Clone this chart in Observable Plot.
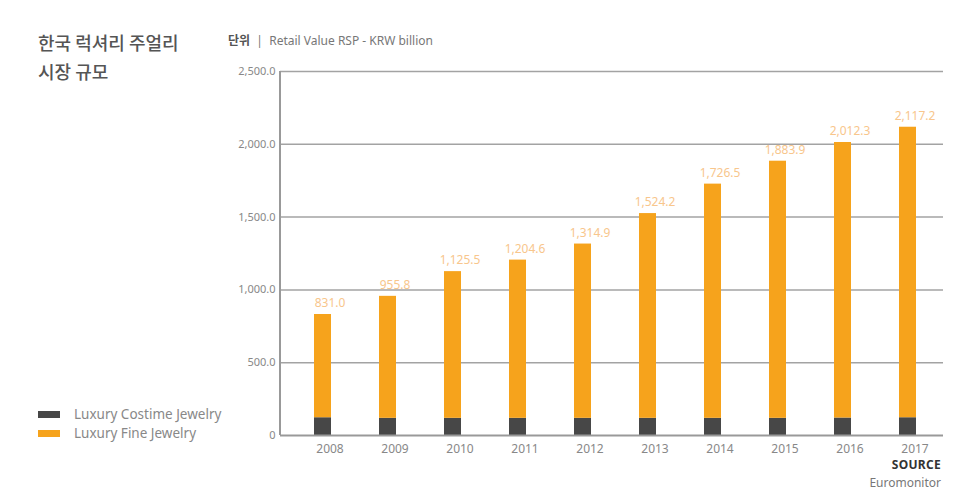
<!DOCTYPE html>
<html><head><meta charset="utf-8">
<script src="https://cdn.jsdelivr.net/npm/d3@7"></script>
<script src="https://cdn.jsdelivr.net/npm/@observablehq/plot@0.6"></script>
<style>
body{margin:0;background:#fff;font-family:"Noto Sans","Noto Sans CJK KR",sans-serif;}
#wrap{position:relative;width:978px;height:497px;overflow:hidden;}
#chart{position:absolute;left:0;top:0;}
.ov{position:absolute;white-space:nowrap;}
#title{left:38px;top:28px;font-family:"Noto Sans CJK KR",sans-serif;font-size:18px;font-weight:500;line-height:29px;color:#555;}
#unit{left:228px;top:32px;font-size:12px;line-height:16px;color:#777;}
#unit b{font-family:"Noto Sans CJK KR",sans-serif;font-weight:700;color:#555;}
#legend{left:38px;top:405px;font-size:13.5px;line-height:19px;color:#888;}
#legend .it{display:flex;align-items:center;}
#legend .sw{width:22px;height:7px;margin-right:14px;}
#source{right:37px;top:456px;text-align:right;font-size:12px;line-height:18px;color:#777;}
#source b{color:#333;letter-spacing:0.3px;}
</style></head><body>
<div id="wrap">
<div id="chart"></div>
<div class="ov" id="title">한국 럭셔리 주얼리<br>시장 규모</div>
<div class="ov" id="unit"><b>단위</b> &nbsp;|&nbsp; Retail Value RSP - KRW billion</div>
<div class="ov" id="legend"></div>
<div class="ov" id="source"><b>SOURCE</b><br>Euromonitor</div>
</div>
<script>
const years = ["2008","2009","2010","2011","2012","2013","2014","2015","2016","2017"];
const totals = [831.0, 955.8, 1125.5, 1204.6, 1314.9, 1524.2, 1726.5, 1883.9, 2012.3, 2117.2];
const costume = [122, 118, 118, 118, 118, 118, 118, 118, 120, 122];
const fine = [709.0, 837.8, 1007.5, 1086.6, 1196.9, 1406.2, 1608.5, 1765.9, 1892.3, 1995.2];
const seriesNames = ["Luxury Costime Jewelry", "Luxury Fine Jewelry"];
const seriesColors = ["#474747", "#F6A31C"];
const yTicks = [0, 500, 1000, 1500, 2000, 2500];

const rows = [];
years.forEach((y, i) => {
  rows.push({year: y, series: seriesNames[0], value: costume[i]});
  rows.push({year: y, series: seriesNames[1], value: fine[i]});
});
const labels = years.map((y, i) => ({year: y, total: totals[i]}));
const fmt = d3.format(",.1f");

const leftLine = (index, scales, values, dims) => {
  const g = d3.create("svg:line")
    .attr("x1", dims.marginLeft).attr("x2", dims.marginLeft)
    .attr("y1", scales.y(2500)).attr("y2", scales.y(0))
    .attr("stroke", "#999").attr("stroke-width", 2);
  return g.node();
};

const chart = Plot.plot({
  width: 978, height: 497,
  marginLeft: 280, marginRight: 35, marginTop: 71, marginBottom: 62,
  style: {fontFamily: "'Noto Sans', sans-serif", color: "#777", background: "transparent"},
  x: {domain: years, range: [312, 917.1], paddingInner: 0.74, paddingOuter: 0, label: null},
  y: {domain: [0, 2500], label: null},
  color: {domain: seriesNames, range: seriesColors},
  marks: [
    Plot.ruleY(yTicks.filter(d => d > 0), {stroke: "#a3a3a3", strokeWidth: 1.5}),
    Plot.barY(rows, {x: "year", y: "value", fill: "series", order: seriesNames}),
    Plot.ruleY([0], {stroke: "#999", strokeWidth: 2}),
    leftLine,
    Plot.text(labels, {x: "year", y: "total", text: d => fmt(d.total), dy: -11, dx: 7, fill: "#F8C68C", fontSize: 12}),
    Plot.axisY({ticks: yTicks, tickFormat: d => d === 0 ? "0" : fmt(d), tickSize: 0, tickPadding: 5, fontSize: 11, fill: "#888"}),
    Plot.axisX({tickSize: 0, tickPadding: 9, dx: 7, fontSize: 12, fill: "#888"})
  ]
});
document.getElementById("chart").appendChild(chart);

const leg = document.getElementById("legend");
seriesNames.forEach((n, i) => {
  const it = document.createElement("div"); it.className = "it";
  const sw = document.createElement("span"); sw.className = "sw"; sw.style.background = seriesColors[i];
  const tx = document.createElement("span"); tx.textContent = n;
  it.appendChild(sw); it.appendChild(tx); leg.appendChild(it);
});
</script>
</body></html>
